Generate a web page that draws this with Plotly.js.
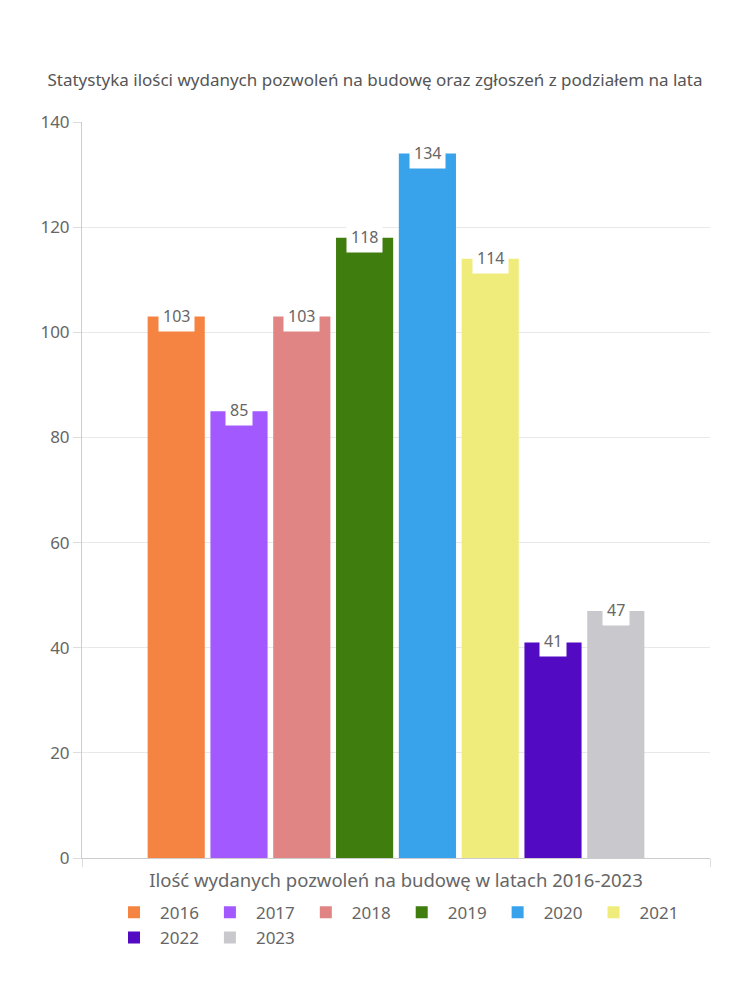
<!DOCTYPE html>
<html><head><meta charset="utf-8">
<script src="https://cdn.plot.ly/plotly-3.0.1.min.js"></script>
<style>body{margin:0;background:#fff}#chart{width:750px;height:1000px}</style>
</head><body><div id="chart"></div>
<script>
const years = ['2016','2017','2018','2019','2020','2021','2022','2023'];
const values = [103, 85, 103, 118, 134, 114, 41, 47];
const colors = ['#F58442','#A259FF','#E08484','#3E7D0E','#38A3EA','#F0EC7C','#520BC2','#C9C9CD'];
const yTicks = [0,20,40,60,80,100,120,140];
const chartTitle = 'Statystyka ilości wydanych pozwoleń na budowę oraz zgłoszeń z podziałem na lata';
const xTitle = 'Ilość wydanych pozwoleń na budowę w latach 2016-2023';

const FONT = 'Noto Sans, sans-serif';
const traces = years.map((y, i) => ({
  type: 'bar', name: y, x: [i], y: [values[i]], width: 0.91,
  marker: {color: colors[i], line: {width: 0}},
  hoverinfo: 'name+y'
}));
const annotations = years.map((y, i) => ({
  x: i, y: values[i], xref: 'x', yref: 'y', text: String(values[i]),
  showarrow: false, yanchor: 'middle', xanchor: 'center',
  bgcolor: '#ffffff', borderpad: 4, yshift: 1,
  font: {family: FONT, size: 16, color: '#666'}
}));
const layout = {
  width: 750, height: 1000,
  margin: {l: 82, r: 40, t: 122, b: 142},
  paper_bgcolor: '#fff', plot_bgcolor: '#fff',
  font: {family: FONT, color: '#666'},
  title: {text: chartTitle, x: 0.5, xanchor: 'center', y: 1 - 80/1000, yanchor: 'middle',
          font: {family: FONT, size: 17, color: '#555'}},
  barmode: 'group',
  showlegend: true,
  legend: {orientation: 'h', x: 0.5, xanchor: 'center', y: -0.05, yanchor: 'top',
           font: {family: FONT, size: 17, color: '#666'}, itemwidth: 42, traceorder: 'normal'},
  xaxis: {range: [-1.5, 8.5], tickvals: [-1.5, 8.5], showticklabels: false,
          ticks: 'outside', ticklen: 8, tickcolor: '#ddd',
          showgrid: true, gridcolor: '#e5e5e5', zeroline: false,
          showline: true, linecolor: '#ccc',
          title: {text: xTitle, standoff: 8, font: {family: FONT, size: 18.5, color: '#666'}}},
  yaxis: {range: [0, 140], tickvals: yTicks, ticks: 'outside', ticklen: 8, tickcolor: '#ddd',
          showgrid: true, gridcolor: '#e8e8e8', zeroline: false,
          showline: true, linecolor: '#ccc',
          tickfont: {family: FONT, size: 17, color: '#666'}},
  annotations: annotations
};
Plotly.newPlot('chart', traces, layout, {displayModeBar: false});
</script></body></html>
